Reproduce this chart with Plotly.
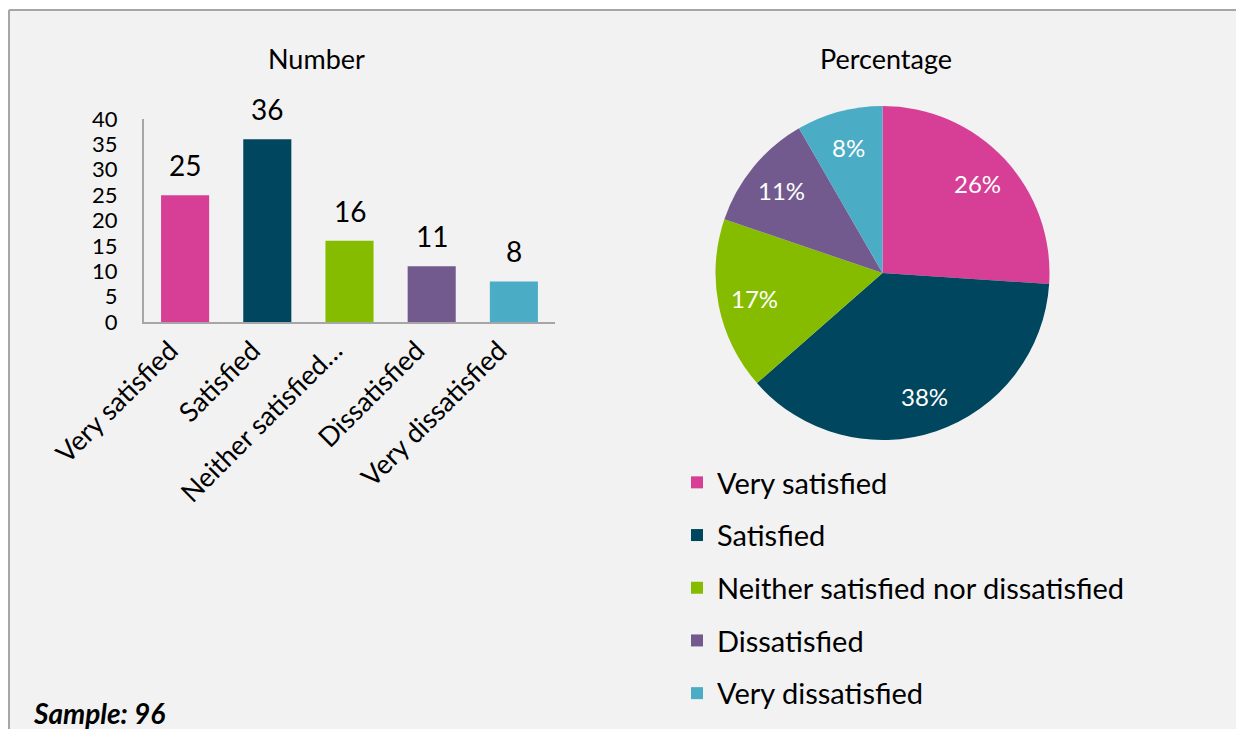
import math

import plotly.graph_objects as go

W, H = 1236, 729

categories = ["Very satisfied", "Satisfied", "Neither satisfied nor dissatisfied",
              "Dissatisfied", "Very dissatisfied"]
tick_labels = ["Very satisfied", "Satisfied", "Neither satisfied…",
               "Dissatisfied", "Very dissatisfied"]
counts = [25, 36, 16, 11, 8]
colors = ["#d63f95", "#00465e", "#86bc00", "#725a8e", "#4bacc6"]
y_ticks = [0, 5, 10, 15, 20, 25, 30, 35, 40]

FONT = "Lato"
INK = "#000000"
BG = "#f2f2f2"
EDGE = "#a6a6a6"

# pie placement in pixels (square domain)
PIE_L, PIE_R, PIE_T, PIE_B = 715.5, 1049.5, 106, 440


def px_x(v):
    return v / W


def px_y(v):
    return 1 - v / H


fig = go.Figure()

# one bar trace per category so the shared legend is drawn from them
for cat, tick, val, col in zip(categories, tick_labels, counts, colors):
    fig.add_trace(go.Bar(
        x=[tick], y=[val], name=cat, marker=dict(color=col, line_width=0),
        width=0.585, legendgroup=cat, showlegend=True,
        hovertemplate=f"{cat}: %{{y}}<extra></extra>",
    ))
    fig.add_annotation(
        x=tick, y=val, xref="x", yref="y", text=str(val), showarrow=False,
        yanchor="middle", yshift=30, font=dict(family=FONT, size=28, color=INK),
    )

fig.add_trace(go.Pie(
    labels=categories, values=counts, sort=False, direction="clockwise",
    rotation=0, marker=dict(colors=colors, line=dict(width=0)),
    textinfo="none",
    domain=dict(x=[px_x(PIE_L), px_x(PIE_R)], y=[px_y(PIE_B), px_y(PIE_T)]),
    showlegend=False, hovertemplate="%{label}: %{percent}<extra></extra>",
))

# percentage labels placed at ~0.78 of the radius, on each slice's mid-angle
total = sum(counts)
cx, cy = (PIE_L + PIE_R) / 2, (PIE_T + PIE_B) / 2
rad = (PIE_R - PIE_L) / 2 * 0.78
cum = 0
for val in counts:
    mid = (cum + val / 2) / total * 2 * math.pi
    cum += val
    fig.add_annotation(
        x=px_x(cx + rad * math.sin(mid)), y=px_y(cy - rad * math.cos(mid)),
        xref="paper", yref="paper", text=f"{val / total:.0%}", showarrow=False,
        xanchor="center", yanchor="middle",
        font=dict(family=FONT, size=24, color="white"),
    )

# panel background and frame
fig.add_shape(type="rect", xref="paper", yref="paper",
              x0=px_x(9), x1=1.0, y0=0, y1=px_y(10),
              fillcolor=BG, line_width=0, layer="below")
fig.add_shape(type="line", xref="paper", yref="paper",
              x0=px_x(9), x1=1.0, y0=px_y(10), y1=px_y(10),
              line=dict(color=EDGE, width=2))
fig.add_shape(type="line", xref="paper", yref="paper",
              x0=px_x(9), x1=px_x(9), y0=0, y1=px_y(10),
              line=dict(color=EDGE, width=2))

for txt, x in [("Number", 316), ("Percentage", 886)]:
    fig.add_annotation(x=px_x(x), y=px_y(58), xref="paper", yref="paper",
                       text=txt, showarrow=False, xanchor="center",
                       yanchor="middle", font=dict(family=FONT, size=27, color=INK))

fig.add_annotation(x=px_x(31), y=px_y(713), xref="paper", yref="paper",
                   text="<b><i>Sample: 96</i></b>", showarrow=False,
                   xanchor="left", yanchor="middle",
                   font=dict(family=FONT, size=28, color=INK))

fig.update_layout(
    width=W, height=H, margin=dict(l=0, r=0, t=0, b=0),
    paper_bgcolor="white", plot_bgcolor="rgba(0,0,0,0)",
    barmode="overlay", font=dict(family=FONT, color=INK),
    legend=dict(x=px_x(677), y=px_y(457), xanchor="left", yanchor="top",
                font=dict(family=FONT, size=29, color=INK),
                tracegroupgap=12, bgcolor="rgba(0,0,0,0)", itemclick=False),
    xaxis=dict(domain=[px_x(144), px_x(555)], type="category",
               showline=True, linecolor=EDGE, linewidth=2, ticks="",
               tickangle=-45, tickfont=dict(family=FONT, size=27, color=INK),
               ticklabelshift=-15,
               showgrid=False, automargin=False, fixedrange=True),
    yaxis=dict(domain=[px_y(322), px_y(119)], range=[0, 40], tickvals=y_ticks,
               showline=True, linecolor=EDGE, linewidth=2, ticks="",
               tickfont=dict(family=FONT, size=22, color=INK),
               ticklabelstandoff=20, showgrid=False, zeroline=False,
               automargin=False, fixedrange=True),
)

# the page's default body margin would offset and overflow the fixed-size figure
fig.write_html("out.html", config={"displayModeBar": False},
               post_script="document.body.style.margin = '0';")
